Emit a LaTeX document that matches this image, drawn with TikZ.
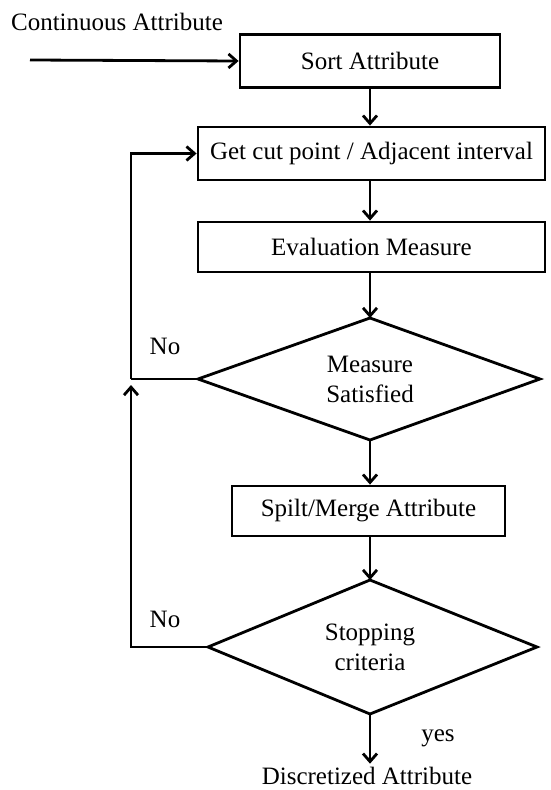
\documentclass[tikz,border=0pt]{standalone}
\usepackage{fontspec}
\setmainfont{Liberation Serif}
\usetikzlibrary{arrows.meta}
\begin{document}
\begin{tikzpicture}[x=1pt,y=-1pt,
  every node/.style={font=\fontsize{25}{29}\selectfont},
  box/.style={draw,line width=2.8pt,rectangle,inner sep=0pt},
  lbl/.style={align=center},
  edge/.style={line width=2.8pt,line join=miter},
  conn/.style={line width=2.8pt,-{Straight Barb[length=8pt,width=14pt,line width=2.8pt]}},
  plain/.style={line width=2.8pt}]
\useasboundingbox (0,0) rectangle (550,790);
\node (title) at (117,22) {Continuous Attribute};
\coordinate (start) at (30,60);
\coordinate (axis) at (370,0);
\node[box,minimum width=260pt,minimum height=53pt] (sort) at (370,61) {Sort Attribute};
\node[box,minimum width=347pt,minimum height=53pt] (cut) at (371.5,153.5) {Get cut point / Adjacent interval};
\node[box,minimum width=347pt,minimum height=50pt] (eval) at (371.5,247) {Evaluation Measure};
% diamond 1
\coordinate (d1n) at (370,318);
\coordinate (d1s) at (370,440);
\coordinate (d1w) at (198,379);
\coordinate (d1e) at (540,379);
\draw[edge] (d1n) -- (d1e) -- (d1s) -- (d1w) -- cycle;
\node[lbl] (d1) at (370,379) {Measure\\[1pt]Satisfied};
\node[box,minimum width=273pt,minimum height=50pt] (split) at (368.5,511) {Spilt/Merge Attribute};
% diamond 2
\coordinate (d2n) at (370,580);
\coordinate (d2s) at (370,714);
\coordinate (d2w) at (208,647);
\coordinate (d2e) at (537,647);
\draw[edge] (d2n) -- (d2e) -- (d2s) -- (d2w) -- cycle;
\node[lbl] (d2) at (370,647) {Stopping\\[1pt]criteria};
\node (out) at (367,776) {Discretized Attribute};
\node (yes) at (438,738) {yes};
\node (no1) at (165,346) {No};
\node (no2) at (165,619) {No};
\coordinate (jn) at (131,379);
\coordinate (top) at (131,153.5);
\coordinate (bot) at (131,647);
\coordinate (up) at (131,385);
\draw[conn] (start) -- (sort.west);
\draw[conn] (sort.south -| axis) -- (cut.north -| axis);
\draw[conn] (cut.south -| axis) -- (eval.north -| axis);
\draw[conn] (eval.south -| axis) -- (d1n);
\draw[conn] (d1s) -- (split.north -| axis);
\draw[conn] (split.south -| axis) -- (d2n);
\draw[conn] (d2s) -- (out.north -| axis);
\draw[plain] (d1w) -- (jn);
\draw[conn,line join=miter] (jn) -- (top) -- (cut.west);
\draw[conn,line join=miter] (d2w) -- (bot) -- (up);
\end{tikzpicture}
\end{document}
